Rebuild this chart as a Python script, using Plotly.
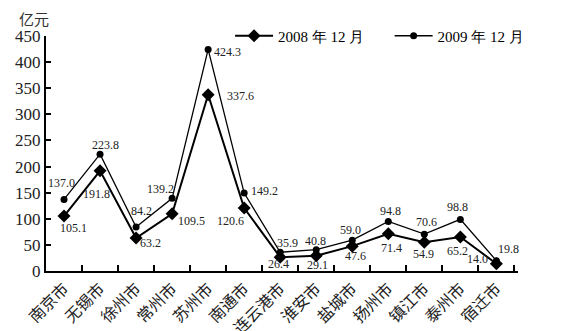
import plotly.graph_objects as go

cities = ["南京市", "无锡市", "徐州市", "常州市", "苏州市", "南通市", "连云港市",
          "淮安市", "盐城市", "扬州市", "镇江市", "泰州市", "宿迁市"]
v2008 = [105.1, 191.8, 63.2, 109.5, 337.6, 120.6, 26.4, 29.1, 47.6, 71.4, 54.9, 65.2, 14.0]
v2009 = [137.0, 223.8, 84.2, 139.2, 424.3, 149.2, 35.9, 40.8, 59.0, 94.8, 70.6, 98.8, 19.8]
yticks = [0, 50, 100, 150, 200, 250, 300, 350, 400, 450]
series_names = ["2008 年 12 月", "2009 年 12 月"]

# label offsets (pixels) relative to each point
off2008 = [(9, -12), (-4, -23), (14, -5), (19, -7), (32, -1), (-14, -13), (-2, -7),
           (1, -9), (3, -10), (3, -14), (-1, -12), (-3, -14), (-19, 5)]
off2009 = [(-3, 16), (5, 9), (5, 16), (-12, 9), (19, -3), (20, 2), (7, 9),
           (-1, 9), (-2, 10), (2, 10), (2, 12), (-3, 12), (12, 12)]

serif = "Liberation Serif, Times New Roman, serif"
cjk = "Noto Sans CJK SC"

fig = go.Figure()
fig.add_trace(go.Scatter(x=cities, y=v2008, mode="lines+markers", name=series_names[0],
                         line=dict(color="black", width=2),
                         marker=dict(symbol="diamond", size=10, color="black"),
                         legend="legend"))
fig.add_trace(go.Scatter(x=cities, y=v2009, mode="lines+markers", name=series_names[1],
                         line=dict(color="black", width=1.3),
                         marker=dict(symbol="circle", size=7, color="black"),
                         legend="legend2"))

ann = []
for c, v, (dx, dy) in zip(cities, v2008, off2008):
    ann.append(dict(x=c, y=v, xref="x", yref="y", text=f"{v:.1f}", showarrow=False,
                    xshift=dx, yshift=dy, font=dict(family=serif, size=12, color="#222")))
for c, v, (dx, dy) in zip(cities, v2009, off2009):
    ann.append(dict(x=c, y=v, xref="x", yref="y", text=f"{v:.1f}", showarrow=False,
                    xshift=dx, yshift=dy, font=dict(family=serif, size=12, color="#222")))
ann.append(dict(x=-0.025, y=1.075, xref="paper", yref="paper", text="亿元", showarrow=False,
                xanchor="center", yanchor="middle", font=dict(family=cjk, size=15, color="#333")))
fig.update_layout(annotations=ann)

leg_common = dict(orientation="h", y=1.0, xanchor="left", yanchor="middle",
                  font=dict(family=serif, size=15, color="black"),
                  bgcolor="rgba(0,0,0,0)", itemwidth=38)

fig.update_layout(
    width=572, height=331,
    margin=dict(l=46, r=54, t=36, b=60),
    paper_bgcolor="white", plot_bgcolor="white",
    showlegend=True,
    legend=dict(x=0.39, **leg_common),
    legend2=dict(x=0.728, **leg_common),
    xaxis=dict(type="category", showline=True, linecolor="black", linewidth=2,
               ticks="inside", tickson="boundaries", ticklen=6, tickcolor="black", tickwidth=1.5,
               tickangle=-45, tickfont=dict(family=cjk, size=16, color="#222"),
               showgrid=False, zeroline=False, automargin=False, range=[-0.5, 12.6]),
    yaxis=dict(range=[0, 450], tickvals=yticks, showline=True, linecolor="black", linewidth=2,
               ticks="inside", ticklen=5, tickcolor="black", tickwidth=1.5,
               tickfont=dict(family=serif, size=17, color="#222"),
               showgrid=False, zeroline=False, automargin=False),
)

fig.write_html("out.html")
